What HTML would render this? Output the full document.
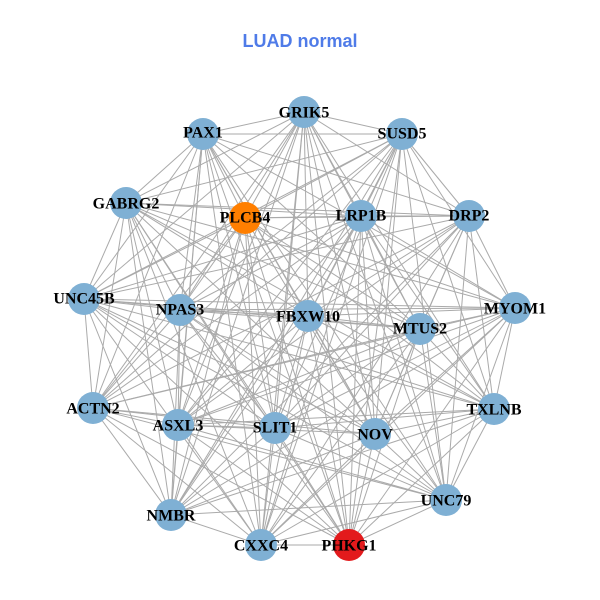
<!DOCTYPE html>
<html><head><meta charset="utf-8"><style>
html,body{margin:0;padding:0;background:#fff;width:600px;height:600px;overflow:hidden}
svg{display:block}
.t{font-family:"Liberation Serif",serif;font-weight:bold;font-size:16px;fill:#000;text-anchor:middle;dominant-baseline:central}
</style></head><body>
<svg id="s" width="600" height="600" viewBox="0 0 600 600">
<text x="300" y="41" text-anchor="middle" dominant-baseline="central" font-family="Liberation Sans,sans-serif" font-weight="bold" font-size="18" fill="#4f7be8">LUAD normal</text>
<g id="e" stroke="#aaaaaa" stroke-width="1"></g>
<g id="n"></g>
<g>
<text class="t" x="304" y="113">GRIK5</text>
<text class="t" x="203" y="133">PAX1</text>
<text class="t" x="402" y="134">SUSD5</text>
<text class="t" x="126" y="204">GABRG2</text>
<text class="t" x="245" y="218">PLCB4</text>
<text class="t" x="361" y="216">LRP1B</text>
<text class="t" x="469" y="216">DRP2</text>
<text class="t" x="84" y="299">UNC45B</text>
<text class="t" x="180" y="310">NPAS3</text>
<text class="t" x="308" y="317">FBXW10</text>
<text class="t" x="420" y="329">MTUS2</text>
<text class="t" x="515" y="309">MYOM1</text>
<text class="t" x="93" y="409">ACTN2</text>
<text class="t" x="178" y="426">ASXL3</text>
<text class="t" x="275" y="428">SLIT1</text>
<text class="t" x="375" y="435">NOV</text>
<text class="t" x="494" y="410">TXLNB</text>
<text class="t" x="171" y="516">NMBR</text>
<text class="t" x="261" y="546">CXXC4</text>
<text class="t" x="349" y="546">PHKG1</text>
<text class="t" x="446" y="501">UNC79</text>
</g>
</svg>
<script>
var P=[[304,112],[203,134],[402,134],[126,203],[245,218],[361,216],[469,216],[84,299],[180,310],[308,316],[420,329],[515,308],[93,408],[178,425],[275,428],[375,434],[494,409],[171,515],[261,545],[349,545],[446,500]];
var ns="http://www.w3.org/2000/svg",e=document.getElementById("e"),n=document.getElementById("n");
for(var i=0;i<P.length;i++)for(var j=i+1;j<P.length;j++){
 if((i*7+j*3)%11==0)continue;
 var l=document.createElementNS(ns,"line");
 l.setAttribute("x1",P[i][0]);l.setAttribute("y1",P[i][1]);l.setAttribute("x2",P[j][0]);l.setAttribute("y2",P[j][1]);e.appendChild(l);}
for(var i=0;i<P.length;i++){var c=document.createElementNS(ns,"circle");
 c.setAttribute("cx",P[i][0]);c.setAttribute("cy",P[i][1]);c.setAttribute("r",16);
 c.setAttribute("fill",i==4?"#ff7f00":(i==19?"#e31a1c":"#7fb0d4"));n.appendChild(c);}
</script>
</body></html>
